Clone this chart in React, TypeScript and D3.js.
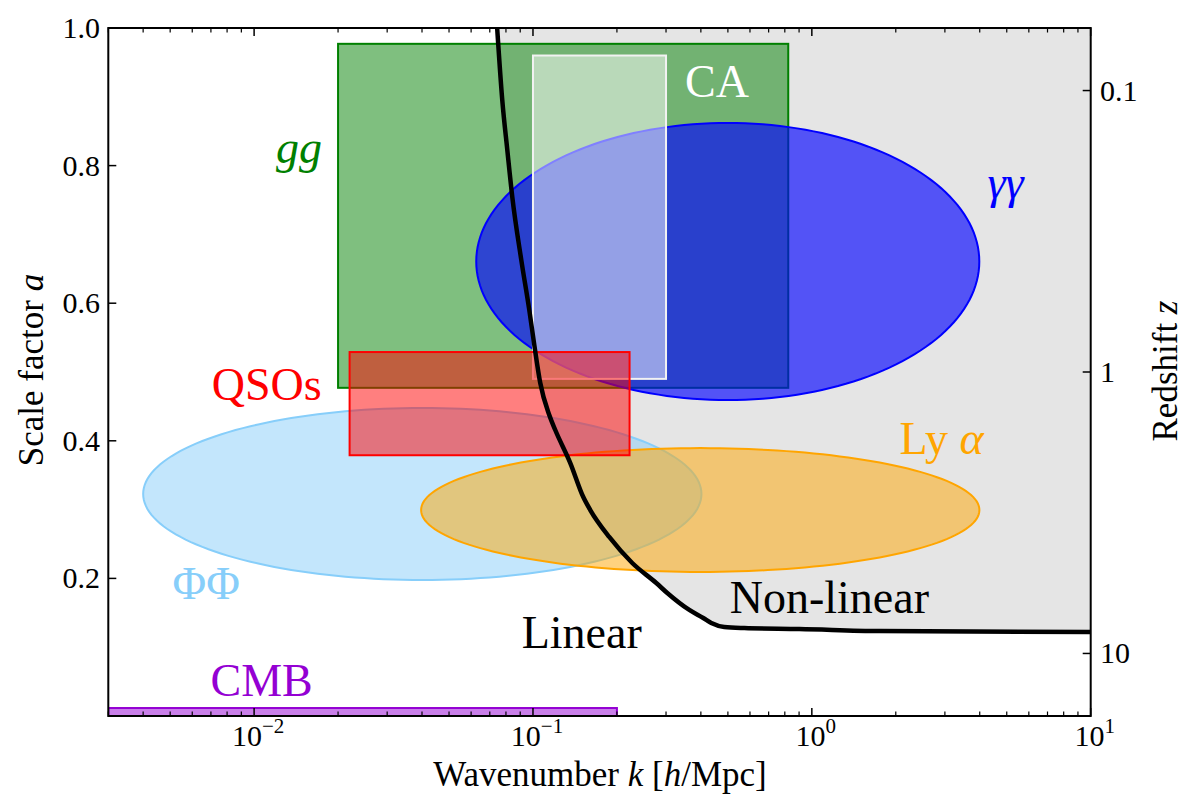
import React from 'react';
import * as d3 from 'd3';

// --- data ---
const kDomain = [0.003, 10];
const aDomain = [0, 1];
const xMajor = [0.01, 0.1, 1, 10];
const xMajorExp = ['−2', '−1', '0', '1'];
const yTicks = [0.2, 0.4, 0.6, 0.8, 1.0];
const zTicks = [0.1, 1, 10];
const zTickLabels = ['0.1', '1', '10'];

// non-linear scale k_NL(a)
const kNL = [0.0744, 0.0776, 0.0809, 0.0843, 0.0908, 0.097, 0.1011, 0.1062, 0.1144, 0.1202, 0.1361, 0.1515, 0.1605, 0.1877, 0.227, 0.2768, 0.3031, 0.3636, 0.408, 0.436, 0.4853, 0.5726, 0.9017, 1.746, 10];
const aNL = [1.0, 0.8953, 0.8227, 0.7544, 0.6628, 0.5901, 0.5392, 0.484, 0.4375, 0.4157, 0.3677, 0.3183, 0.2994, 0.2602, 0.2224, 0.1933, 0.1788, 0.1541, 0.1424, 0.1352, 0.1294, 0.1279, 0.1265, 0.1235, 0.1221];

// rectangles: [kMin, kMax, aMin, aMax]
const ggRect = [0.02, 0.823, 0.477, 0.977];
const caRect = [0.1, 0.3, 0.49, 0.96];
const qsoRect = [0.022, 0.222, 0.379, 0.529];
const cmbRect = [0.003, 0.2, 0, 0.0116];

// ellipses in (log10 k, a): [centre k, half-width dex, centre a, half-height]
const ggEllipse = [0.4995, 0.902, 0.6606, 0.2013];
const phiEllipse = [0.0401, 1.001, 0.3227, 0.125];
const lyaEllipse = [0.398, 1.001, 0.2994, 0.09];

// labels
const labelParts = [
  [{ t: 'gg', i: true }],
  [{ t: 'CA', i: false }],
  [{ t: 'γγ', i: true }],
  [{ t: 'QSOs', i: false }],
  [{ t: 'ΦΦ', i: false }],
  [{ t: 'CMB', i: false }],
  [{ t: 'Linear', i: false }],
  [{ t: 'Non-linear', i: false }],
  [{ t: 'Ly ', i: false }, { t: 'α', i: true }],
];
const labelK = [0.0145, 0.457, 4.95, 0.0111, 0.00673, 0.01064, 0.1496, 1.156, 2.92];
const labelA = [0.804, 0.899, 0.753, 0.4595, 0.17, 0.029, 0.0989, 0.1498, 0.381];
const labelColor = ['green', 'white', 'blue', 'red', 'lightskyblue', 'darkviolet', 'black', 'black', 'orange'];

const W = 1200;
const H = 812;
const left = 108.3;
const right = 1090.7;
const top = 28;
const bottom = 716;
const font = '"Liberation Serif", "Times New Roman", serif';

export default function App() {
  const x = d3.scaleLog().domain(kDomain).range([left, right]);
  const y = d3.scaleLinear().domain(aDomain).range([bottom, top]);

  const minor: number[] = [];
  for (let e = -3; e <= 0; e++) {
    for (let m = 2; m <= 9; m++) {
      const v = m * Math.pow(10, e);
      if (v >= kDomain[0] && v <= kDomain[1]) minor.push(v);
    }
  }

  const rectProps = (r: number[]) => ({
    x: x(r[0]),
    y: y(r[3]),
    width: x(r[1]) - x(r[0]),
    height: y(r[2]) - y(r[3]),
  });

  const ellipsePath = (e: number[]) => {
    const pts: [number, number][] = d3.range(0, 361, 2).map((deg) => {
      const t = (deg * Math.PI) / 180;
      const lk = Math.log10(e[0]) + e[1] * Math.cos(t);
      const a = e[2] + e[3] * Math.sin(t);
      return [x(Math.pow(10, lk)), y(a)];
    });
    return (d3.line().curve(d3.curveLinearClosed)(pts) as string) || '';
  };

  const nl = kNL.map((k, i) => ({ k, a: aNL[i] }));
  const nlArea = d3
    .area<{ k: number; a: number }>()
    .x((d) => x(d.k))
    .y0(y(1))
    .y1((d) => y(d.a))
    .curve(d3.curveMonotoneX)(nl) || '';
  const nlLine = d3
    .line<{ k: number; a: number }>()
    .x((d) => x(d.k))
    .y((d) => y(d.a))
    .curve(d3.curveMonotoneX)(nl) || '';

  return (
    <svg
      width={W}
      height={H}
      style={{ position: 'absolute', left: 0, top: 0, background: 'white' }}
      fontFamily={font}
    >
      <defs>
        <clipPath id="plot">
          <rect x={left} y={top} width={right - left} height={bottom - top} />
        </clipPath>
      </defs>

      <g clipPath="url(#plot)">
        <path d={nlArea} fill="#e5e5e5" stroke="none" />
        <rect {...rectProps(ggRect)} fill="green" fillOpacity={0.5} stroke="green" strokeWidth={2} />
        <path d={ellipsePath(ggEllipse)} fill="blue" fillOpacity={0.64} stroke="blue" strokeWidth={2} />
        <rect {...rectProps(caRect)} fill="white" fillOpacity={0.5} stroke="#f2f2f2" strokeWidth={2} />
        <path d={ellipsePath(phiEllipse)} fill="lightskyblue" fillOpacity={0.5} stroke="lightskyblue" strokeWidth={2} />
        <path d={ellipsePath(lyaEllipse)} fill="orange" fillOpacity={0.5} stroke="orange" strokeWidth={2} />
        <rect {...rectProps(qsoRect)} fill="red" fillOpacity={0.5} stroke="red" strokeWidth={2} />
        <path d={nlLine} fill="none" stroke="black" strokeWidth={4.5} strokeLinejoin="round" />
        <rect {...rectProps(cmbRect)} fill="darkviolet" fillOpacity={0.5} stroke="darkviolet" strokeWidth={2} />
      </g>

      {labelParts.map((parts, i) => (
        <text
          key={i}
          x={x(labelK[i])}
          y={y(labelA[i])}
          textAnchor="middle"
          fontSize={46}
          fill={labelColor[i]}
        >
          {parts.map((p, j) => (
            <tspan key={j} fontStyle={p.i ? 'italic' : 'normal'}>
              {p.t}
            </tspan>
          ))}
        </text>
      ))}

      {/* frame */}
      <rect x={left} y={top} width={right - left} height={bottom - top} fill="none" stroke="black" strokeWidth={2} />

      {/* x ticks, bottom and top */}
      {xMajor.map((v) => (
        <g key={'xM' + v}>
          <line x1={x(v)} x2={x(v)} y1={bottom} y2={bottom - 8} stroke="black" strokeWidth={1.5} />
          <line x1={x(v)} x2={x(v)} y1={top} y2={top + 8} stroke="black" strokeWidth={1.5} />
        </g>
      ))}
      {minor.map((v) => (
        <g key={'xm' + v}>
          <line x1={x(v)} x2={x(v)} y1={bottom} y2={bottom - 4.5} stroke="black" strokeWidth={1.2} />
          <line x1={x(v)} x2={x(v)} y1={top} y2={top + 4.5} stroke="black" strokeWidth={1.2} />
        </g>
      ))}
      {xMajor.map((v, i) => (
        <text key={'xl' + v} x={x(v) + 4} y={746} textAnchor="middle" fontSize={30}>
          10
          <tspan dy={-13} fontSize={21}>
            {xMajorExp[i]}
          </tspan>
        </text>
      ))}

      {/* left a ticks */}
      {yTicks.map((v) => (
        <g key={'y' + v}>
          <line x1={left} x2={left + 8} y1={y(v)} y2={y(v)} stroke="black" strokeWidth={1.5} />
          <text x={100} y={y(v) + 10} textAnchor="end" fontSize={30}>
            {v.toFixed(1)}
          </text>
        </g>
      ))}

      {/* right z ticks */}
      {zTicks.map((z, i) => (
        <g key={'z' + z}>
          <line x1={right} x2={right - 8} y1={y(1 / (1 + z))} y2={y(1 / (1 + z))} stroke="black" strokeWidth={1.5} />
          <text x={1100} y={y(1 / (1 + z)) + 10} fontSize={30}>
            {zTickLabels[i]}
          </text>
        </g>
      ))}

      {/* axis labels */}
      <text x={600} y={786} textAnchor="middle" fontSize={35}>
        Wavenumber <tspan fontStyle="italic">k</tspan> [<tspan fontStyle="italic">h</tspan>/Mpc]
      </text>
      <text transform="translate(43,370) rotate(-90)" textAnchor="middle" fontSize={35}>
        Scale factor <tspan fontStyle="italic">a</tspan>
      </text>
      <text transform="translate(1177,371) rotate(-90)" textAnchor="middle" fontSize={35}>
        Redshift <tspan fontStyle="italic">z</tspan>
      </text>
    </svg>
  );
}
